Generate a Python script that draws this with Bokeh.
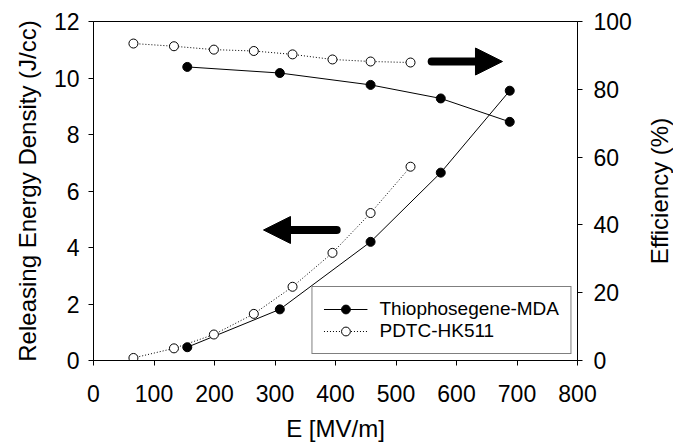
import math
from bokeh.plotting import figure
from bokeh.layouts import row
from bokeh.models import (Range1d, LinearAxis, Legend, LegendItem, Arrow, NormalHead,
                          FixedTicker, Title)
from bokeh.embed import file_html
from bokeh.resources import INLINE

# ---- data ----
thio_E = [155, 308, 458, 574, 688]
thio_energy = [0.47, 1.81, 4.20, 6.65, 9.55]
thio_eff = [86.6, 84.8, 81.3, 77.3, 70.4]

pdtc_E = [66, 133, 199, 265, 329, 395, 458, 524]
pdtc_energy = [0.09, 0.43, 0.92, 1.65, 2.61, 3.81, 5.22, 6.86]
pdtc_eff = [93.5, 92.7, 91.7, 91.3, 90.3, 88.8, 88.2, 87.9]

x_ticks = [0, 100, 200, 300, 400, 500, 600, 700, 800]
y_ticks = [0, 2, 4, 6, 8, 10, 12]
eff_ticks = [0, 20, 40, 60, 80, 100]

series_names = ["Thiophosegene-MDA", "PDTC-HK511"]
x_label = "E [MV/m]"
y_label = "Releasing Energy Density (J/cc)"
y2_label = "Efficiency (%)"

# annotation arrows (data coordinates): tail x, head-base x, tip x, y
arrow_right_eff = (559, 633, 676, 88.2)
arrow_left_energy = (402, 324, 281, 4.62)

FONT = "Liberation Sans"

p = figure(frame_width=484, frame_height=339,
           min_border_left=93, min_border_right=66,
           min_border_top=21, min_border_bottom=84,
           x_range=Range1d(0, 800), y_range=Range1d(0, 12),
           output_backend="svg", toolbar_location=None,
           background_fill_color="white", border_fill_color="white")
p.extra_y_ranges = {"eff": Range1d(0, 100)}
p.grid.visible = False
p.outline_line_color = "black"
p.outline_line_width = 1
p.outline_line_alpha = 1

def style_axis(ax, ticks, tick_standoff, label_standoff):
    ax.ticker = FixedTicker(ticks=ticks)
    ax.minor_tick_line_color = None
    ax.major_tick_in = 0
    ax.major_tick_out = 5
    ax.major_tick_line_color = "black"
    ax.axis_line_color = "black"
    ax.major_label_text_font = FONT
    ax.major_label_text_font_size = "23px"
    ax.major_label_text_color = "black"
    ax.major_label_standoff = tick_standoff
    ax.axis_label_text_font = FONT
    ax.axis_label_text_font_size = "24px"
    ax.axis_label_text_font_style = "normal"
    ax.axis_label_text_color = "black"
    ax.axis_label_standoff = label_standoff

p.xaxis.axis_label = x_label
p.yaxis.axis_label = y_label
style_axis(p.xaxis[0], x_ticks, 19, 10)
style_axis(p.yaxis[0], y_ticks, 9, 10)

right = LinearAxis(y_range_name="eff")
style_axis(right, eff_ticks, 11, 12)
p.add_layout(right, "right")

# ---- series ----
l1 = p.line(thio_E, thio_energy, line_color="black", line_width=1)
s1 = p.scatter(thio_E, thio_energy, size=9, fill_color="black", line_color="black")
l2 = p.line(thio_E, thio_eff, y_range_name="eff", line_color="black", line_width=1)
s2 = p.scatter(thio_E, thio_eff, y_range_name="eff", size=9, fill_color="black", line_color="black")

l3 = p.line(pdtc_E, pdtc_energy, line_color="black", line_width=1, line_dash="1 2")
s3 = p.scatter(pdtc_E, pdtc_energy, size=9, fill_color="white", line_color="black")
l4 = p.line(pdtc_E, pdtc_eff, y_range_name="eff", line_color="black", line_width=1, line_dash="1 2")
s4 = p.scatter(pdtc_E, pdtc_eff, y_range_name="eff", size=9, fill_color="white", line_color="black")

# ---- arrows ----
def add_arrow(spec, range_name="default"):
    tail, base, tip, yv = spec
    p.add_layout(Arrow(x_start=tail, y_start=yv, x_end=base, y_end=yv, y_range_name=range_name,
                       line_width=8, line_color="black", line_cap="round", end=None))
    p.add_layout(Arrow(x_start=base, y_start=yv, x_end=tip, y_end=yv, y_range_name=range_name,
                       line_width=1, line_color="black", line_alpha=0,
                       end=NormalHead(size=27, fill_color="black", line_color="black", line_width=1)))

add_arrow(arrow_right_eff, "eff")
add_arrow(arrow_left_energy)

# ---- legend ----
legend = Legend(items=[LegendItem(label=series_names[0], renderers=[l1, s1]),
                       LegendItem(label=series_names[1], renderers=[l3, s3])],
                location="bottom_right")
legend.label_text_font = FONT
legend.label_text_font_size = "19px"
legend.label_text_color = "black"
legend.glyph_width = 44
legend.glyph_height = 22
legend.label_height = 22
legend.label_standoff = 12
legend.spacing = 0
legend.padding = 11
legend.margin = 6
legend.border_line_color = "black"
legend.border_line_width = 1
legend.background_fill_alpha = 1
p.add_layout(legend)

# ---- right-axis title (reads bottom-to-top), held in a narrow side figure ----
p2 = figure(frame_width=1, frame_height=339,
            min_border_left=0, min_border_right=0,
            min_border_top=21, min_border_bottom=84,
            x_axis_type=None, y_axis_type=None,
            output_backend="svg", toolbar_location=None,
            background_fill_color="white", border_fill_color="white")
p2.outline_line_color = None
p2.add_layout(Title(text=y2_label, align="center", text_font=FONT, text_font_size="24px",
                    text_font_style="normal", text_color="black", standoff=0, offset=0), "left")

layout = row(p, p2, spacing=0)
open("out.html", "w").write(file_html(layout, INLINE))
